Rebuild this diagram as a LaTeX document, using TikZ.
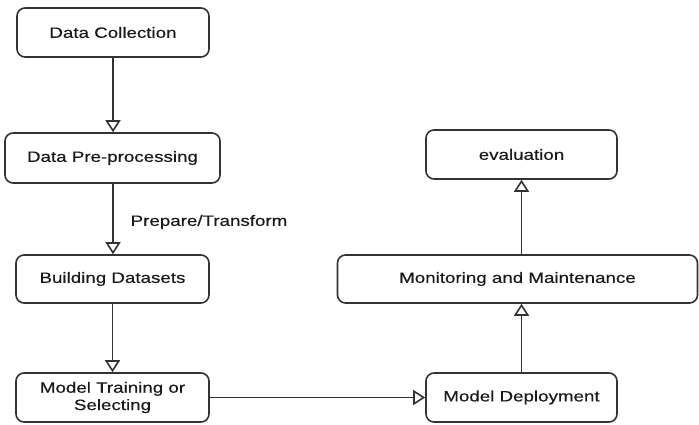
\documentclass[tikz,border=0pt]{standalone}
\usepackage{fontspec}
\newfontfamily\labfont[FakeStretch=1.25,FakeBold=0.4]{Liberation Sans}
\usetikzlibrary{arrows.meta}
\definecolor{linec}{HTML}{333333}
\definecolor{textc}{HTML}{1a1a1a}
\tikzset{
  box/.style={draw=linec, line width=1.6pt, rounded corners=8pt, rectangle,
    inner sep=0pt, align=center, text=textc,
    font=\labfont\fontsize{15}{17.3}\selectfont},
  conn/.style={draw=linec, line width=1.6pt,
    -{Triangle[open, width=15pt, length=12pt, fill=white]}},
  lbl/.style={text=textc, font=\labfont\fontsize{15}{17.3}\selectfont, inner sep=0pt}
}
\begin{document}
\begin{tikzpicture}[x=1pt,y=-1pt]
\useasboundingbox (0,0) rectangle (699,424);
\node[box, minimum width=192pt, minimum height=49pt] (dc) at (113,32.5) {Data Collection};
\node[box, minimum width=215pt, minimum height=50pt] (dp) at (112.5,158) {Data Pre-processing};
\node[box, minimum width=193pt, minimum height=48pt] (bd) at (112.5,279) {Building Datasets};
\node[box, minimum width=193pt, minimum height=49pt] (mt) at (112.5,397.5) {Model Training or\\Selecting};
\node[box, minimum width=191pt, minimum height=49pt] (md) at (521.5,397.5) {Model Deployment};
\node[box, minimum width=360pt, minimum height=48pt] (mm) at (517.5,279) {Monitoring and Maintenance};
\node[box, minimum width=191pt, minimum height=49pt] (ev) at (521.5,154.5) {evaluation};
\draw[conn] (dc.south) -- (dc.south |- dp.north);
\draw[conn] (dc.south |- dp.south) -- (dc.south |- bd.north);
\draw[conn] (bd.south) -- (mt.north);
\draw[conn] (mt.east) -- (md.west);
\draw[conn] (md.north) -- (md.north |- mm.south);
\draw[conn] (md.north |- mm.north) -- (ev.south);
\node[lbl] (pt) at (209,222) {Prepare/Transform};
\end{tikzpicture}
\end{document}
